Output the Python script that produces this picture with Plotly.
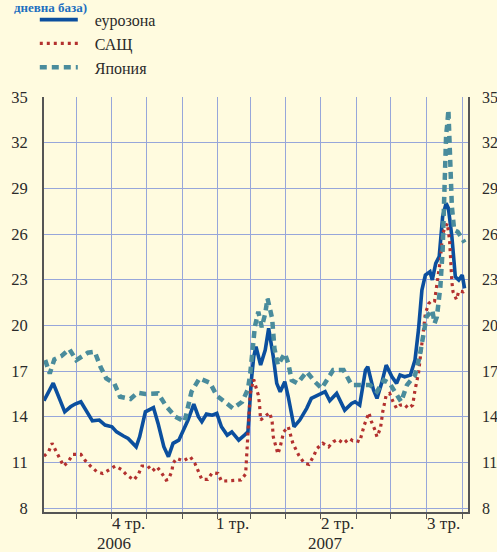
import plotly.graph_objects as go

# ---------------- data ----------------
eu_dates = ["2006-09-03","2006-09-11","2006-09-14","2006-09-18","2006-09-21","2006-09-26","2006-09-30",
            "2006-10-05","2006-10-10","2006-10-15","2006-10-21","2006-10-26","2006-11-01","2006-11-05",
            "2006-11-11","2006-11-15","2006-11-22","2006-11-25","2006-11-30","2006-12-07","2006-12-11",
            "2006-12-16","2006-12-20","2006-12-24","2006-12-29","2007-01-02","2007-01-06","2007-01-11",
            "2007-01-15","2007-01-18","2007-01-22","2007-01-27","2007-01-31","2007-02-04","2007-02-09",
            "2007-02-13","2007-02-19","2007-02-24","2007-02-27","2007-03-02","2007-03-04","2007-03-06",
            "2007-03-10","2007-03-14","2007-03-17","2007-03-21","2007-03-24","2007-03-27","2007-03-31",
            "2007-04-03","2007-04-08","2007-04-13","2007-04-19","2007-04-23","2007-04-29","2007-05-05",
            "2007-05-09","2007-05-15","2007-05-22","2007-05-28","2007-05-31","2007-06-04","2007-06-09",
            "2007-06-11","2007-06-16","2007-06-19","2007-06-23","2007-06-27","2007-07-02","2007-07-06",
            "2007-07-09","2007-07-13","2007-07-18","2007-07-22","2007-07-25","2007-07-28","2007-07-31",
            "2007-08-04","2007-08-06","2007-08-09","2007-08-12","2007-08-15","2007-08-18","2007-08-20",
            "2007-08-23","2007-08-26","2007-08-29","2007-09-01","2007-09-03"]
eu_values = [15.05,16.2,15.64,14.83,14.32,14.65,14.83,
             14.98,14.32,13.73,13.78,13.45,13.34,13.0,
             12.73,12.57,12.02,12.68,14.32,14.6,13.56,
             12.03,11.37,12.25,12.46,13.12,13.78,14.83,
             14.0,13.67,14.17,14.1,14.22,13.34,12.79,
             13.0,12.46,12.79,13.0,16.4,17.94,18.6,
             17.4,18.38,19.8,17.94,16.19,15.64,16.3,
             15.31,13.34,13.78,14.55,15.2,15.42,15.64,
             15.05,15.53,14.43,14.87,14.98,14.76,17.06,
             17.28,15.75,15.2,16.19,17.39,16.62,16.19,
             16.73,16.62,16.73,17.72,19.69,22.32,23.3,
             23.52,22.98,24.07,24.51,27.14,28.02,27.69,
             25.82,23.19,22.98,23.3,22.43]

us_dates = ["2006-09-03","2006-09-07","2006-09-10","2006-09-13","2006-09-16","2006-09-20","2006-09-24",
            "2006-09-28","2006-10-05","2006-10-09","2006-10-14","2006-10-19","2006-10-24","2006-10-29",
            "2006-11-04","2006-11-09","2006-11-14","2006-11-20","2006-11-24","2006-11-27","2006-12-02",
            "2006-12-06","2006-12-10","2006-12-14","2006-12-18","2006-12-20","2006-12-23","2006-12-24",
            "2006-12-27","2007-01-02","2007-01-08","2007-01-12","2007-01-15","2007-01-18","2007-01-23",
            "2007-01-27","2007-02-01","2007-02-04","2007-02-10","2007-02-16","2007-02-21","2007-02-25",
            "2007-02-26","2007-02-27","2007-02-28","2007-03-01","2007-03-04","2007-03-06","2007-03-08",
            "2007-03-09","2007-03-10","2007-03-15","2007-03-18","2007-03-20","2007-03-21","2007-03-25",
            "2007-03-27","2007-03-30","2007-04-03","2007-04-07","2007-04-12","2007-04-17","2007-04-21",
            "2007-04-25","2007-04-28","2007-05-03","2007-05-08","2007-05-12","2007-05-16","2007-05-21",
            "2007-05-26","2007-05-29","2007-05-31","2007-06-04","2007-06-06","2007-06-08","2007-06-12",
            "2007-06-14","2007-06-17","2007-06-19","2007-06-22","2007-06-24","2007-06-27","2007-06-30",
            "2007-07-03","2007-07-06","2007-07-09","2007-07-13","2007-07-16","2007-07-20","2007-07-22",
            "2007-07-25","2007-07-28","2007-07-31","2007-08-03","2007-08-06","2007-08-08","2007-08-10",
            "2007-08-13","2007-08-15","2007-08-19","2007-08-21","2007-08-22","2007-08-23","2007-08-24",
            "2007-08-27","2007-08-29","2007-09-02","2007-09-04"]
us_values = [11.41,11.7,12.25,11.81,11.26,10.76,11.04,
             11.52,11.52,11.1,10.71,10.38,10.27,10.49,
             10.76,10.54,10.16,9.84,10.23,10.76,10.76,
             10.43,10.71,10.32,9.84,9.88,10.43,10.93,
             11.26,11.1,11.37,10.93,10.38,9.88,9.88,
             10.32,10.27,9.77,9.79,9.79,9.84,10.23,
             11.37,12.46,14.0,15.53,16.45,15.97,15.42,
             14.87,13.78,14.1,14.26,13.67,12.68,11.55,
             12.02,13.0,13.34,12.25,11.48,10.93,10.87,
             11.41,11.92,12.25,12.02,12.35,12.51,12.25,
             12.57,12.42,12.46,12.35,12.9,13.45,14.26,
             13.71,13.17,12.68,13.23,14.32,15.42,15.53,
             14.98,14.55,14.76,14.81,14.55,14.76,15.75,
             16.84,18.81,20.78,21.44,21.66,21.61,22.76,
             24.29,26.04,26.7,25.6,24.07,22.86,22.2,
             21.7,22.25,22.2,22.32]

jp_dates = ["2006-09-04","2006-09-08","2006-09-12","2006-09-18","2006-09-25","2006-10-01","2006-10-11",
            "2006-10-17","2006-10-22","2006-10-27","2006-11-03","2006-11-08","2006-11-17","2006-11-23",
            "2006-11-30","2006-12-08","2006-12-11","2006-12-18","2006-12-26","2007-01-03","2007-01-09",
            "2007-01-16","2007-01-25","2007-01-31","2007-02-09","2007-02-14","2007-02-22","2007-02-27",
            "2007-03-01","2007-03-02","2007-03-05","2007-03-08","2007-03-11","2007-03-14","2007-03-16",
            "2007-03-20","2007-03-22","2007-03-25","2007-03-31","2007-04-03","2007-04-06","2007-04-11",
            "2007-04-19","2007-04-26","2007-05-02","2007-05-12","2007-05-21","2007-05-28","2007-06-06",
            "2007-06-13","2007-06-19","2007-06-25","2007-06-30","2007-07-05","2007-07-10","2007-07-15",
            "2007-07-22","2007-07-26","2007-07-30","2007-08-01","2007-08-06","2007-08-08","2007-08-10",
            "2007-08-13","2007-08-15","2007-08-16","2007-08-17","2007-08-18","2007-08-19","2007-08-20",
            "2007-08-21","2007-08-22","2007-08-23","2007-08-25","2007-08-28","2007-08-31","2007-09-03"]
jp_values = [17.72,16.84,17.77,17.98,18.44,17.72,18.2,
             18.27,17.28,16.52,16.19,15.31,15.16,15.57,
             15.49,15.57,15.53,14.7,14.0,13.67,15.64,
             16.52,16.23,15.38,14.87,14.55,14.98,15.8,
             16.84,17.83,19.91,20.89,19.87,20.78,21.77,
             20.46,18.49,17.39,18.16,17.5,16.4,16.19,
             16.95,16.3,15.86,17.06,17.06,16.08,16.08,
             16.08,15.64,16.4,16.19,15.64,14.98,16.08,
             16.73,17.94,19.69,20.56,21.0,20.13,20.56,
             22.54,24.95,28.2,30.5,32.5,33.2,34.15,
             32.0,29.55,27.8,26.26,26.15,25.82,25.43]

series_names = ["еурозона", "САЩ", "Япония"]

month_starts = ["2006-10-01","2006-11-01","2006-12-01","2007-01-01","2007-02-01","2007-03-01",
                "2007-04-01","2007-05-01","2007-06-01","2007-07-01","2007-08-01","2007-09-01"]
quarter_labels = ["4 тр.", "1 тр.", "2 тр.", "3 тр."]
quarter_pos = ["2006-11-15", "2007-02-14", "2007-05-16", "2007-08-16"]
year_labels = ["2006", "2007"]
year_pos = ["2006-11-03", "2007-05-05"]
y_ticks = [8, 11, 14, 17, 20, 23, 26, 29, 32, 35]

# ---------------- style ----------------
BG = "#FFFBDF"
GRID = "#97A6DA"
AXIS = "#555555"
FONT = "Liberation Serif"
TXT = "#2a2a2a"
PAD = "\u00a0\u00a0\u00a0"

fig = go.Figure()
fig.add_trace(go.Scatter(x=eu_dates, y=eu_values, name=PAD + series_names[0], mode="lines",
                         line=dict(color="#0B4F9E", width=3.6)))
fig.add_trace(go.Scatter(x=us_dates, y=us_values, name=PAD + series_names[1], mode="lines",
                         line=dict(color="#B3312F", width=3.2, dash="3px,4px")))
fig.add_trace(go.Scatter(x=jp_dates, y=jp_values, name=PAD + series_names[2], mode="lines",
                         line=dict(color="#4A8C9C", width=4.5, dash="7px,5px")))
# helper trace to activate the right-hand axis
fig.add_trace(go.Scatter(x=[None], y=[None], yaxis="y2", showlegend=False, hoverinfo="skip"))

yrange = [7.74, 35]
fig.update_layout(
    width=497, height=552,
    paper_bgcolor=BG, plot_bgcolor=BG,
    margin=dict(l=44, r=29, t=97, b=40, autoexpand=False),
    font=dict(family=FONT, size=17, color=TXT),
    showlegend=True,
    legend=dict(xref="container", yref="container", x=0.07, y=0.995, xanchor="left", yanchor="top",
                bgcolor="rgba(0,0,0,0)", font=dict(family=FONT, size=16, color=TXT),
                itemwidth=38, tracegroupgap=0),
    xaxis=dict(type="date", range=["2006-09-03", "2007-09-06"], tickvals=month_starts,
               showticklabels=False, showgrid=True, gridcolor=GRID, gridwidth=1,
               ticks="outside", ticklen=5, tickcolor=AXIS, showline=True, linecolor=AXIS,
               linewidth=1.5, zeroline=False),
    yaxis=dict(range=yrange, tickvals=y_ticks, showgrid=True, gridcolor=GRID, gridwidth=1,
               showline=True, linecolor=AXIS, linewidth=2, ticks="", ticklabelstandoff=11,
               zeroline=False, tickfont=dict(family=FONT, size=16.5, color=TXT)),
    yaxis2=dict(range=yrange, tickvals=y_ticks, overlaying="y", side="right", showgrid=False,
                showline=True, linecolor=AXIS, linewidth=1.5, ticks="", ticklabelstandoff=9,
                zeroline=False, tickfont=dict(family=FONT, size=16, color=TXT)),
)

annotations = []
for lab, pos in zip(quarter_labels, quarter_pos):
    annotations.append(dict(x=pos, y=-0.027, xref="x", yref="paper", text=lab, showarrow=False,
                            yanchor="middle", font=dict(family=FONT, size=17, color=TXT)))
for lab, pos in zip(year_labels, year_pos):
    annotations.append(dict(x=pos, y=-0.075, xref="x", yref="paper", text=lab, showarrow=False,
                            yanchor="middle", font=dict(family=FONT, size=17, color=TXT)))
annotations.append(dict(x=-0.075, y=1.2145, xref="paper", yref="paper", text="<b>дневна база)</b>",
                        showarrow=False, xanchor="left", yanchor="middle",
                        font=dict(family=FONT, size=13, color="#1D6FC0")))
fig.update_layout(annotations=annotations)

fig.write_html("out.html", config={"displayModeBar": False},
               post_script="document.body.style.margin='0';")
